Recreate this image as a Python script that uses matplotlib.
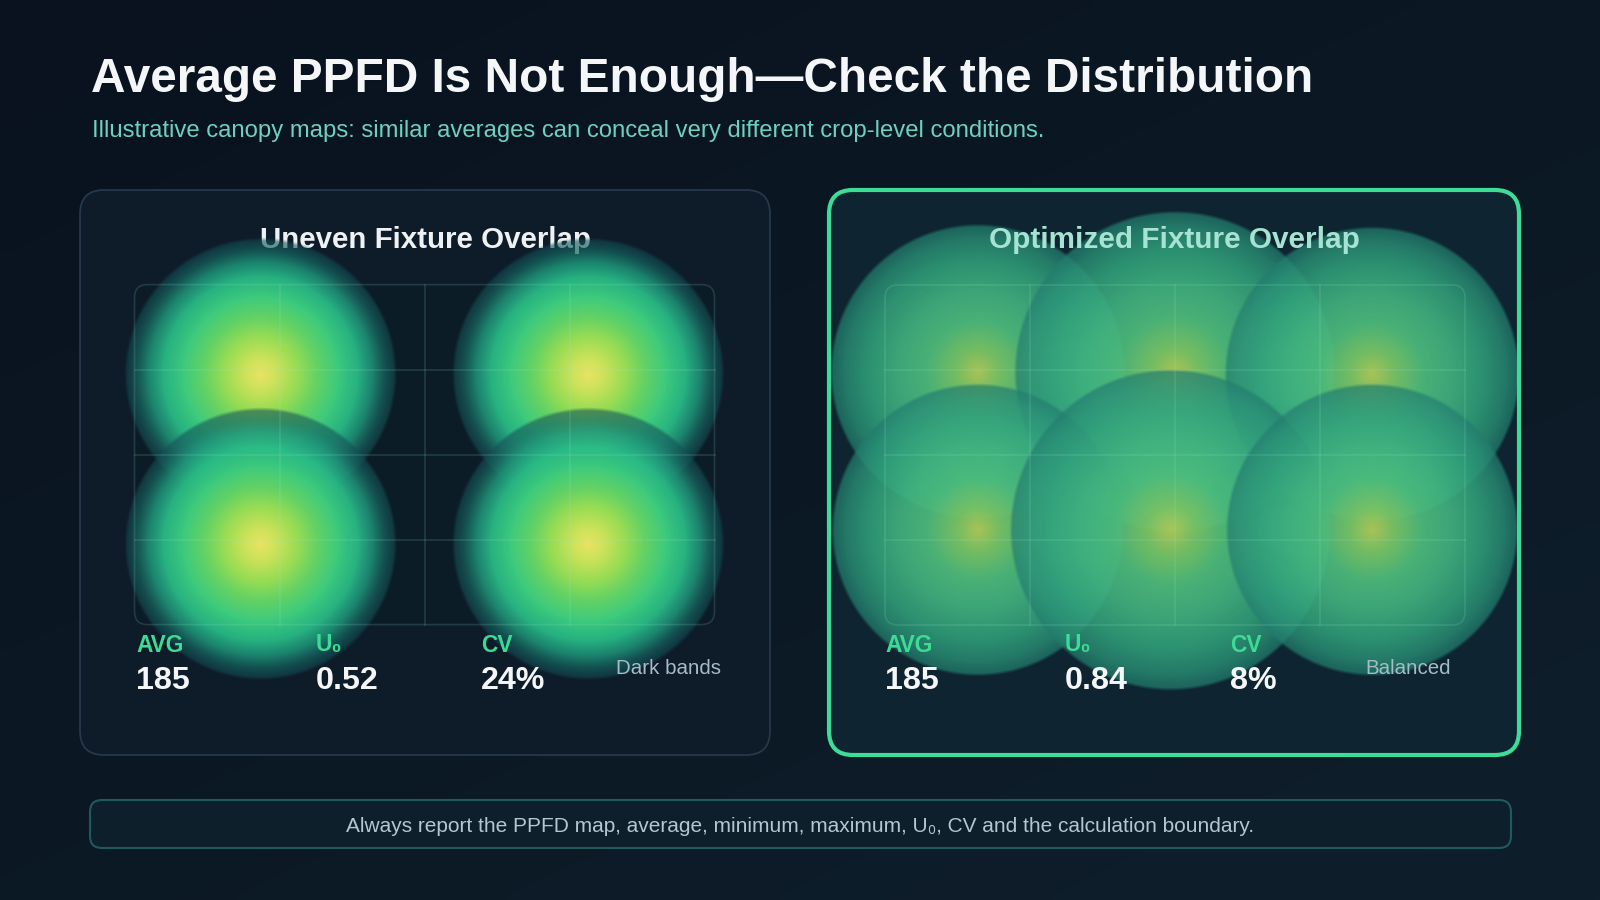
import numpy as np
import matplotlib
matplotlib.use("Agg")
import matplotlib.pyplot as plt
from matplotlib.patches import FancyBboxPatch

# ---------------- data ----------------
title = "Average PPFD Is Not Enough\u2014Check the Distribution"
subtitle = "Illustrative canopy maps: similar averages can conceal very different crop-level conditions."
panel_titles = ["Uneven Fixture Overlap", "Optimized Fixture Overlap"]
stat_labels = ["AVG", "U\u2080", "CV"]
uneven_values = ["185", "0.52", "24%"]
optimized_values = ["185", "0.84", "8%"]
notes = ["Dark bands", "Balanced"]
footer = "Always report the PPFD map, average, minimum, maximum, U\u2080, CV and the calculation boundary."

# fixture layout in canopy-grid units (4 x 4 cells)
uneven_fx_col = [0.87, 3.13, 0.87, 3.13]
uneven_fx_row = [1.05, 1.05, 3.05, 3.05]
uneven_fx_spread = [0.93, 0.93, 0.93, 0.93]
optimized_fx_col = [0.64, 2.00, 3.36, 0.64, 1.97, 3.36]
optimized_fx_row = [1.02, 1.02, 1.05, 2.88, 2.88, 2.88]
optimized_fx_spread = [1.01, 1.10, 1.01, 1.00, 1.10, 1.00]

# ---------------- figure ----------------
W, H = 1600, 900
FONT = ["Liberation Sans", "DejaVu Sans"]
fig = plt.figure(figsize=(16, 9), dpi=100)
ax = fig.add_axes([0, 0, 1, 1])
ax.set_xlim(0, W)
ax.set_ylim(H, 0)
ax.axis("off")

# background gradient
gy, gx = np.mgrid[0:90, 0:160]
u = (gx / 159.0) * 0.45 + (gy / 89.0) * 0.55
c0 = np.array([9, 18, 30]) / 255
c1 = np.array([14, 31, 43]) / 255
bg = c0[None, None, :] * (1 - u[..., None]) + c1[None, None, :] * u[..., None]
ax.imshow(bg, extent=(0, W, H, 0), interpolation="bilinear", zorder=0, aspect="auto")

renderer = fig.canvas.get_renderer()


def fit_text(t, width):
    bb = t.get_window_extent(renderer)
    t.set_fontsize(t.get_fontsize() * width / bb.width)


t = ax.text(91, 92, title, fontsize=35, fontweight="bold", color="#f4f6f8",
            family=FONT, va="baseline", ha="left", zorder=10)
fit_text(t, 1222)
t = ax.text(92, 136.5, subtitle, fontsize=17.4, color="#6dd2bd",
            family=FONT, va="baseline", ha="left", zorder=10)
fit_text(t, 952)


def glow_layer(X, Y, cx, cy, R, ts, cols, alphas, soft=3.5):
    r = np.hypot(X - cx, Y - cy)
    tt = r / R
    rgb = np.stack([np.interp(tt, ts, cols[:, k]) for k in range(3)], -1) / 255.0
    a = np.interp(tt, ts, alphas) * np.clip((R - r) / soft + 0.5, 0, 1)
    return rgb, a


left_ts = [0, 0.12, 0.28, 0.42, 0.58, 0.72, 0.83, 0.92, 1.0]
left_cols = np.array([(236, 226, 96), (205, 226, 88), (150, 220, 82), (98, 210, 98),
                      (58, 202, 124), (40, 186, 134), (30, 150, 122), (22, 104, 98),
                      (18, 74, 82)], float)
left_alp = [1, 1, 1, 1, 1, 0.95, 0.85, 0.7, 0.55]

right_ts = [0, 0.15, 0.35, 0.55, 0.75, 0.9, 1.0]
right_cols = np.array([(178, 205, 88), (122, 198, 100), (78, 190, 124), (64, 180, 128),
                       (50, 164, 124), (42, 145, 118), (34, 124, 110)], float)
right_alp = [0.95, 0.95, 0.92, 0.9, 0.86, 0.8, 0.72]

panels = [
    dict(x=80, y=190, w=690, h=565, fill="#0e1b29", edge="#26384a", lw=1.3,
         gx=134.5, gy=284.6, cols=uneven_fx_col, rows=uneven_fx_row, spread=uneven_fx_spread,
         ts=left_ts, cc=left_cols, aa=left_alp, values=uneven_values, note=notes[0],
         title=panel_titles[0], tcolor="#eef2f5", tz=2.5, twidth=332),
    dict(x=829, y=190, w=690, h=565, fill="#0e2430", edge="#3ddc97", lw=3.0,
         gx=885.0, gy=285.0, cols=optimized_fx_col, rows=optimized_fx_row, spread=optimized_fx_spread,
         ts=right_ts, cc=right_cols, aa=right_alp, values=optimized_values, note=notes[1],
         title=panel_titles[1], tcolor="#a6e3d2", tz=5, twidth=370),
]

CW, RH = 145.0, 85.0  # grid cell size in px

for p in panels:
    x0, y0, w, h = p["x"], p["y"], p["w"], p["h"]
    face = FancyBboxPatch((x0, y0), w, h, boxstyle="round,pad=0,rounding_size=24",
                          fc=p["fill"], ec="none", zorder=1)
    ax.add_patch(face)
    border = FancyBboxPatch((x0, y0), w, h, boxstyle="round,pad=0,rounding_size=24",
                            fc="none", ec=p["edge"], lw=p["lw"], zorder=8)
    ax.add_patch(border)

    # grid box fill
    gx0, gy0 = p["gx"], p["gy"]
    gw, gh = 4 * CW, 4 * RH
    gbox = FancyBboxPatch((gx0, gy0), gw, gh, boxstyle="round,pad=0,rounding_size=13",
                          fc="#091822", ec="none", zorder=2)
    ax.add_patch(gbox)

    # panel title
    t = ax.text(x0 + w / 2, 248, p["title"], fontsize=21.6, fontweight="bold",
                color=p["tcolor"], family=FONT, ha="center", va="baseline", zorder=p["tz"])
    fit_text(t, p["twidth"])

    # glow map
    Y, X = np.mgrid[y0:y0 + h, x0:x0 + w].astype(float) + 0.5
    prem = np.zeros((h, w, 3))
    alpha = np.zeros((h, w))
    for c, r_, s in zip(p["cols"], p["rows"], p["spread"]):
        cx = gx0 + c * CW
        cy = gy0 + r_ * RH
        R = s * CW
        rgb, a = glow_layer(X, Y, cx, cy, R, p["ts"], p["cc"], p["aa"])
        prem = rgb * a[..., None] + prem * (1 - a[..., None])
        alpha = a + alpha * (1 - a)
    img = np.zeros((h, w, 4))
    img[..., :3] = prem / np.maximum(alpha, 1e-6)[..., None]
    img[..., 3] = alpha
    im = ax.imshow(np.clip(img, 0, 1), extent=(x0, x0 + w, y0 + h, y0),
                   interpolation="bilinear", zorder=3, aspect="auto")
    im.set_clip_path(face)

    # grid lines on top
    gl = (0.6, 0.9, 0.82, 0.16)
    for i in range(1, 4):
        ax.plot([gx0 + i * CW] * 2, [gy0, gy0 + gh], color=gl, lw=1.2, zorder=4)
        ax.plot([gx0, gx0 + gw], [gy0 + i * RH] * 2, color=gl, lw=1.2, zorder=4)
    gb = FancyBboxPatch((gx0, gy0), gw, gh, boxstyle="round,pad=0,rounding_size=13",
                        fc=(0.6, 0.9, 0.82, 0.025), ec=(0.6, 0.9, 0.82, 0.16), lw=1.2, zorder=4)
    ax.add_patch(gb)

    # stats
    offs = [56, 236, 401]
    for off, lab, val in zip(offs, stat_labels, p["values"]):
        ax.text(x0 + off, 651.5, lab, fontsize=16.4, fontweight="bold", color="#3ddc94",
                family=FONT, ha="left", va="baseline", zorder=9)
        ax.text(x0 + off, 689.3, val, fontsize=23.2, fontweight="bold", color="#f4f6f8",
                family=FONT, ha="left", va="baseline", zorder=9)
    ax.text(x0 + 536, 674, p["note"], fontsize=14.8, color="#a6bcc6",
            family=FONT, ha="left", va="baseline", zorder=9)

# footer
fb = FancyBboxPatch((90, 800), 1421, 48, boxstyle="round,pad=0,rounding_size=12",
                    fc="#0e1f2c", ec="#1f5a5c", lw=1.5, zorder=1)
ax.add_patch(fb)
t = ax.text(800, 831.5, footer, fontsize=13.4, color="#b6c6cf", family=FONT,
            ha="center", va="baseline", zorder=9)
fit_text(t, 907)

fig.savefig("out.png", dpi=100, facecolor="#0b1624")
